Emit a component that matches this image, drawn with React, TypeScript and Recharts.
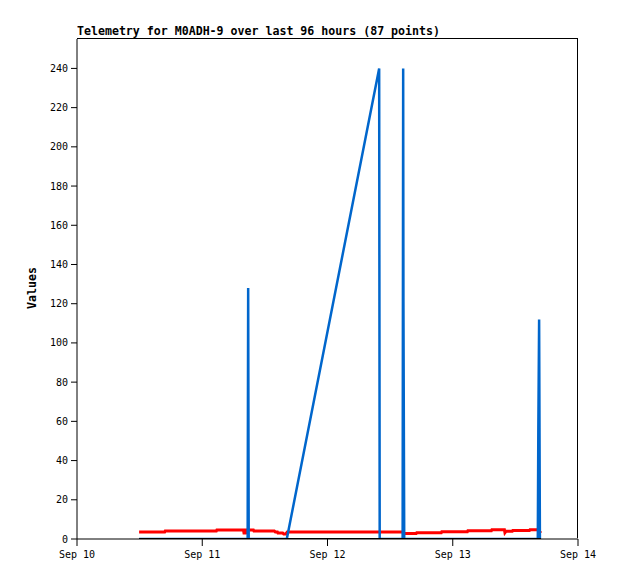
import React from 'react';
import { LineChart, Line, XAxis, YAxis } from 'recharts';

// hours since Sep 10 00:00
const dayTicks = [0, 24, 48, 72, 96];
const dayLabels = ['Sep 10', 'Sep 11', 'Sep 12', 'Sep 13', 'Sep 14'];
const valueTicks = [0, 20, 40, 60, 80, 100, 120, 140, 160, 180, 200, 220, 240];

// blue channel: mostly zero with spikes
const blueHours = [11.9, 32.7, 32.8, 32.9, 40.2, 57.9, 58.0, 62.4, 62.5, 62.55, 62.7, 88.3, 88.4, 88.55, 88.7];
const blueValues = [0, 0, 128, 0, 0, 240, 0, 0, 240, 121, 0, 0, 57, 112, 0];

// red channel
const redHours = [
  11.9, 16.8, 16.9, 26.7, 26.8, 31.9, 32.0, 32.3, 32.4, 33.8, 33.9, 37.8, 38.0, 38.4, 38.5,
  39.4, 39.6, 40.0, 40.3, 62.4, 62.6, 65.0, 65.1, 69.8, 69.9, 74.8, 74.9, 79.4, 79.5, 81.9,
  82.0, 82.2, 83.4, 83.5, 86.7, 86.8, 88.3, 88.9,
];
const redValues = [
  3.6, 3.6, 4.1, 4.1, 4.6, 4.6, 3.0, 3.0, 4.6, 4.6, 4.1, 4.1, 3.6, 3.6, 3.1,
  3.1, 2.6, 2.6, 3.6, 3.6, 2.8, 2.8, 3.2, 3.2, 3.7, 3.7, 4.2, 4.2, 4.7, 4.7,
  3.2, 3.9, 3.9, 4.3, 4.3, 4.7, 4.7, 3.0,
];

// black channel
const blackHours = [11.9, 88.9];
const blackValues = [0, 0];

const toRows = (hours: number[], values: number[]) => hours.map((h, i) => ({ h, v: values[i] }));

const blueData = toRows(blueHours, blueValues);
const redData = toRows(redHours, redValues);
const blackData = toRows(blackHours, blackValues);

const mono = '"DejaVu Sans Mono", monospace';
const tickStyle = { fontSize: 10, fontFamily: mono, fill: '#000' };

export default function App() {
  return (
    <div style={{ position: 'relative', width: 600, height: 560 }}>
      <div
        style={{
          position: 'absolute',
          left: 69,
          top: 17,
          fontFamily: mono,
          fontWeight: 'bold',
          fontSize: 11.6,
          lineHeight: '12px',
          whiteSpace: 'nowrap',
        }}
      >
        Telemetry for M0ADH-9 over last 96 hours (87 points)
      </div>
      <div
        style={{
          position: 'absolute',
          left: 24,
          top: 280,
          transform: 'translate(-50%, -50%) rotate(-90deg)',
          fontFamily: mono,
          fontWeight: 'bold',
          fontSize: 11.6,
          lineHeight: '12px',
          whiteSpace: 'nowrap',
        }}
      >
        Values
      </div>
      {/* plot frame, top and right edges */}
      <div
        style={{
          position: 'absolute',
          left: 69,
          top: 30,
          width: 501,
          height: 500,
          borderTop: '1px solid #000',
          borderRight: '1px solid #000',
          boxSizing: 'border-box',
          pointerEvents: 'none',
        }}
      />
      <LineChart width={600} height={560} margin={{ top: 31, right: 30, bottom: 0, left: 29 }}>
        <XAxis
          dataKey="h"
          type="number"
          domain={[0, 96]}
          ticks={dayTicks}
          tickFormatter={(v: number) => dayLabels[dayTicks.indexOf(v)]}
          allowDataOverflow
          height={29}
          tickSize={7}
          tickMargin={5}
          tick={tickStyle}
          stroke="#000"
        />
        <YAxis
          type="number"
          domain={[0, 255]}
          ticks={valueTicks}
          allowDataOverflow
          width={40}
          tickSize={6}
          tickMargin={3}
          tick={tickStyle}
          stroke="#000"
        />
        <Line data={redData} dataKey="v" type="linear" stroke="#ff0000" strokeWidth={3} dot={false} isAnimationActive={false} />
        <Line data={blueData} dataKey="v" type="linear" stroke="#0066cc" strokeWidth={2.5} dot={false} isAnimationActive={false} />
        <Line data={blackData} dataKey="v" type="linear" stroke="#000000" strokeWidth={2} dot={false} isAnimationActive={false} />
      </LineChart>
    </div>
  );
}
